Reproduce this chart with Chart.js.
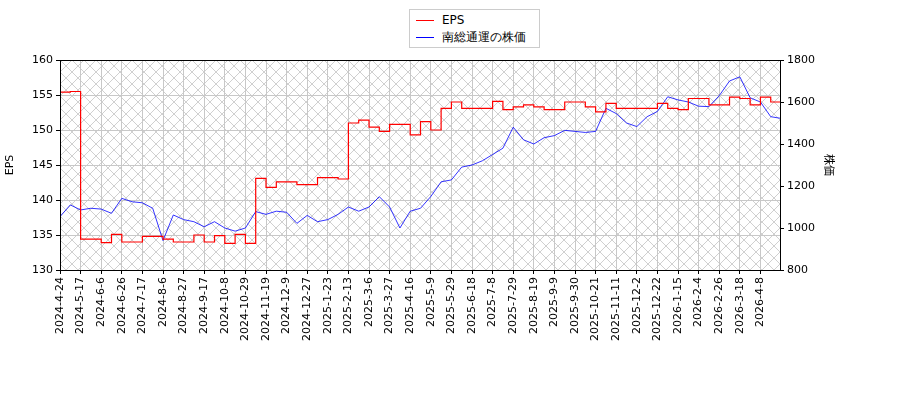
<!DOCTYPE html>
<html>
<head>
<meta charset="utf-8">
<script src="https://cdn.jsdelivr.net/npm/chart.js@4"></script>
<style>
body { margin: 0; background: #fff; }
#wrap { position: relative; width: 900px; height: 400px; }
#legend { position: absolute; left: 409px; top: 9px; width: 131px; height: 39px; border: 1px solid #ccc; background: #fff;
  font: 12px "DejaVu Sans", sans-serif; color: #000; box-sizing: border-box; padding: 2px 6px; }
#legend div { height: 17px; line-height: 17px; }
#legend span { display: inline-block; width: 18px; height: 0; vertical-align: middle; margin-right: 8px; }
</style>
</head>
<body>
<div id="wrap">
<canvas id="c" width="900" height="400"></canvas>
<div id="legend">
  <div><span style="border-top:1.5px solid #f00"></span>EPS</div>
  <div><span style="border-top:1px solid #00f"></span>南総通運の株価</div>
</div>
</div>
<script>
// tick labels, one every 2 data steps
const tickLabels = ['2024-4-24','2024-5-17','2024-6-6','2024-6-26','2024-7-17','2024-8-6','2024-8-27','2024-9-17',
  '2024-10-8','2024-10-29','2024-11-19','2024-12-9','2024-12-27','2025-1-23','2025-2-13','2025-3-6','2025-3-27',
  '2025-4-16','2025-5-9','2025-5-29','2025-6-18','2025-7-8','2025-7-29','2025-8-19','2025-9-9','2025-9-30',
  '2025-10-21','2025-11-11','2025-12-2','2025-12-22','2026-1-15','2026-2-4','2026-2-26','2026-3-18','2026-4-8'];

const epsVals = [155.4,155.5,134.4,134.4,133.9,135.1,134.0,134.0,134.8,134.8,134.4,134.0,134.0,135.0,134.0,134.9,
  133.8,135.1,133.8,143.1,141.8,142.6,142.6,142.2,142.2,143.2,143.2,143.0,151.0,151.4,150.4,149.8,150.8,150.8,
  149.3,151.2,150.0,153.1,154.0,153.1,153.1,153.1,154.1,152.9,153.3,153.6,153.3,152.9,152.9,154.0,154.0,153.3,
  152.6,153.8,153.1,153.1,153.1,153.1,153.8,153.1,152.9,154.5,154.5,153.6,153.6,154.7,154.5,153.6,154.7,154.0,154.0];

const priceVals = [1054,1110,1086,1094,1090,1070,1141,1125,1120,1094,940,1062,1040,1030,1006,1030,1000,985,1000,
  1078,1065,1080,1075,1022,1060,1030,1040,1065,1100,1080,1100,1149,1100,1000,1080,1094,1150,1220,1229,1290,1300,
  1320,1350,1380,1480,1420,1400,1430,1440,1465,1460,1455,1460,1570,1545,1500,1483,1530,1555,1625,1610,1600,1580,
  1578,1630,1700,1720,1620,1600,1530,1522];

const hatch = document.createElement('canvas');
hatch.width = 12; hatch.height = 12;
const hc = hatch.getContext('2d');
hc.strokeStyle = '#c4c4c4'; hc.lineWidth = 0.8;
hc.beginPath();
hc.moveTo(0, 0); hc.lineTo(12, 12);
hc.moveTo(12, 0); hc.lineTo(0, 12);
hc.stroke();

const hatchPlugin = {
  id: 'hatch',
  beforeDraw(chart) {
    const a = chart.chartArea, ctx = chart.ctx;
    ctx.save();
    ctx.fillStyle = ctx.createPattern(hatch, 'repeat');
    ctx.fillRect(a.left, a.top, a.right - a.left, a.bottom - a.top);
    ctx.restore();
  },
  afterDraw(chart) {
    const a = chart.chartArea, ctx = chart.ctx;
    ctx.save();
    ctx.strokeStyle = '#000'; ctx.lineWidth = 1;
    ctx.strokeRect(a.left + 0.5, a.top + 0.5, a.right - a.left, a.bottom - a.top);
    ctx.restore();
  }
};

const font = { family: 'DejaVu Sans', size: 11 };

new Chart(document.getElementById('c'), {
  type: 'line',
  data: {
    datasets: [
      { label: 'EPS', data: epsVals.map((v, i) => ({ x: i, y: v })), yAxisID: 'y', stepped: true,
        borderColor: '#f00', borderWidth: 1.2, pointRadius: 0 },
      { label: '南総通運の株価', data: priceVals.map((v, i) => ({ x: i, y: v })), yAxisID: 'y1',
        borderColor: '#0000ff', borderWidth: 0.8, pointRadius: 0 }
    ]
  },
  plugins: [hatchPlugin],
  options: {
    responsive: false,
    animation: false,
    layout: { padding: { top: 60, right: 60, left: 0, bottom: 0 } },
    plugins: { legend: { display: false }, tooltip: { enabled: false } },
    scales: {
      x: {
        type: 'linear', min: 0, max: 69.9,
        afterBuildTicks(s) { s.ticks = tickLabels.map((_, i) => ({ value: i * 2 })); },
        afterFit(s) { s.height = 130; },
        ticks: { callback: (v) => tickLabels[v / 2], maxRotation: 90, minRotation: 90, autoSkip: false, color: '#000', font },
        grid: { color: '#c8c8c8', drawTicks: true, tickLength: 4, tickColor: '#000' },
        border: { color: '#000' }
      },
      y: {
        position: 'left', min: 130, max: 160,
        afterFit(s) { s.width = 60; },
        ticks: { stepSize: 5, color: '#000', font },
        grid: { color: '#c8c8c8', tickColor: '#000', tickLength: 4 },
        title: { display: true, text: 'EPS', color: '#000', font },
        border: { color: '#000' }
      },
      y1: {
        position: 'right', min: 800, max: 1800,
        afterFit(s) { s.width = 60; },
        ticks: { stepSize: 200, color: '#000', font, callback: (v) => String(v) },
        grid: { drawOnChartArea: false, tickColor: '#000', tickLength: 4 },
        title: { display: true, text: '株価', color: '#000', font: { family: 'Noto Sans CJK JP', size: 11 } },
        border: { color: '#000' }
      }
    }
  }
});
</script>
</body>
</html>
